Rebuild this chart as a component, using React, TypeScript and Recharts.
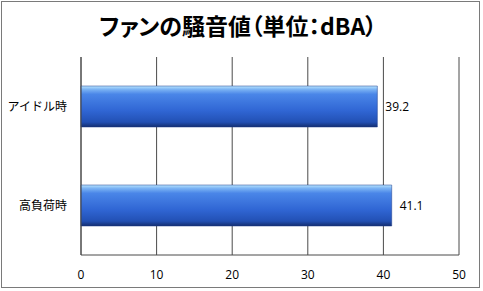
import React from "react";
import { BarChart, Bar, XAxis, YAxis, CartesianGrid, LabelList } from "recharts";

const categories = ["アイドル時", "高負荷時"];
const noiseValues = [39.2, 41.1];
const xTicks = [0, 10, 20, 30, 40, 50];
const title = "ファンの騒音値（単位：dBA）";

const data = categories.map((name, i) => ({ name, value: noiseValues[i] }));

export default function App() {
  return (
    <div style={{ position: "absolute", left: 0, top: 0, width: 483, height: 291, background: "#fff" }}>
      <div
        style={{
          position: "absolute",
          left: 1,
          top: 1,
          width: 479,
          height: 287,
          border: "1px solid #7a7a7a",
          boxSizing: "border-box",
        }}
      />
      <div
        style={{
          position: "absolute",
          left: 0,
          top: 10,
          width: 476,
          textAlign: "center",
          fontFamily: "'Noto Sans CJK JP'",
          fontWeight: 700,
          fontSize: 23,
          lineHeight: "30px",
          color: "#000",
          fontFeatureSettings: '"palt"',
        }}
      >
        {title}
      </div>
      <BarChart
        width={483}
        height={291}
        data={data}
        layout="vertical"
        margin={{ top: 57, right: 24, bottom: 0, left: 0 }}
        barCategoryGap={29}
      >
        <defs>
          <linearGradient id="barGrad" x1="0" y1="0" x2="0" y2="1">
            <stop offset="0%" stopColor="#b8e4ff" />
            <stop offset="8%" stopColor="#7cb4f4" />
            <stop offset="20%" stopColor="#4a86e8" />
            <stop offset="60%" stopColor="#3066d4" />
            <stop offset="88%" stopColor="#2250b4" />
            <stop offset="100%" stopColor="#142e70" />
          </linearGradient>
        </defs>
        <CartesianGrid horizontal={false} vertical stroke="#4a4a4a" />
        <XAxis
          type="number"
          domain={[0, 50]}
          ticks={xTicks}
          height={36}
          axisLine={{ stroke: "#4a4a4a" }}
          tickLine={false}
          tickSize={6}
          tickMargin={9}
          tick={{ fontSize: 12, fill: "#000", fontFamily: "'Open Sans'" }}
          interval={0}
        />
        <YAxis
          type="category"
          dataKey="name"
          width={81}
          axisLine={{ stroke: "#4a4a4a" }}
          tickLine={false}
          tickSize={6}
          tickMargin={8}
          tick={{ fontSize: 12, fill: "#000", fontFamily: "'Noto Sans CJK JP'" }}
        />
        <Bar dataKey="value" fill="url(#barGrad)" stroke="#1c3c8c" strokeWidth={0.5} isAnimationActive={false}>
          <LabelList
            dataKey="value"
            position="right"
            offset={8}
            style={{ fontSize: 12, fill: "#000", fontFamily: "'Open Sans'" }}
          />
        </Bar>
      </BarChart>
    </div>
  );
}
